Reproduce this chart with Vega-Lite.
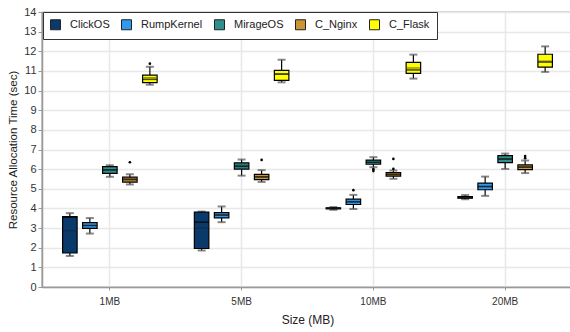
{
  "$schema": "https://vega.github.io/schema/vega-lite/v6.json",
  "width": 531,
  "height": 275,
  "autosize": {"type": "none"},
  "padding": {"left": 42, "top": 12, "right": 0, "bottom": 45},
  "background": "white",
  "config": {
    "font": "Liberation Sans",
    "view": {"stroke": "#555", "strokeWidth": 1.2},
    "legend": {"strokeColor": "#333", "fillColor": "white", "padding": 7},
    "axis": {
      "labelFont": "Liberation Sans",
      "titleFont": "Liberation Sans",
      "labelColor": "#333",
      "titleColor": "#222",
      "titleFontWeight": "normal",
      "domainColor": "#999",
      "domainWidth": 1.5,
      "tickColor": "#999",
      "gridColor": "#e8e8e8",
      "gridWidth": 1.5
    },
    "axisY": {"labelOverlap": false}
  },
  "datasets": {
    "boxes": [
      {"size": "1MB", "os": "ClickOS", "min": 1.58, "q1": 1.73, "median": 3.55, "mean": 2.86, "q3": 3.58, "max": 3.76},
      {"size": "1MB", "os": "RumpKernel", "min": 2.72, "q1": 2.98, "median": 3.13, "mean": 3.14, "q3": 3.28, "max": 3.51},
      {"size": "1MB", "os": "MirageOS", "min": 5.61, "q1": 5.78, "median": 5.96, "mean": 5.97, "q3": 6.13, "max": 6.2},
      {"size": "1MB", "os": "C_Nginx", "min": 5.22, "q1": 5.34, "median": 5.47, "mean": 5.5, "q3": 5.59, "max": 5.74},
      {"size": "1MB", "os": "C_Flask", "min": 10.3, "q1": 10.4, "median": 10.57, "mean": 10.65, "q3": 10.79, "max": 11.21},
      {"size": "5MB", "os": "ClickOS", "min": 1.86, "q1": 1.96, "median": 3.3, "mean": 3.0, "q3": 3.81, "max": 3.84},
      {"size": "5MB", "os": "RumpKernel", "min": 3.3, "q1": 3.52, "median": 3.66, "mean": 3.68, "q3": 3.79, "max": 4.1},
      {"size": "5MB", "os": "MirageOS", "min": 5.67, "q1": 6.0, "median": 6.14, "mean": 6.2, "q3": 6.32, "max": 6.49},
      {"size": "5MB", "os": "C_Nginx", "min": 5.35, "q1": 5.47, "median": 5.6, "mean": 5.62, "q3": 5.73, "max": 5.95},
      {"size": "5MB", "os": "C_Flask", "min": 10.42, "q1": 10.52, "median": 10.83, "mean": 10.86, "q3": 11.03, "max": 11.57},
      {"size": "10MB", "os": "ClickOS", "min": 3.93, "q1": 3.98, "median": 4.0, "mean": 4.01, "q3": 4.03, "max": 4.07},
      {"size": "10MB", "os": "RumpKernel", "min": 3.97, "q1": 4.2, "median": 4.33, "mean": 4.36, "q3": 4.47, "max": 4.69},
      {"size": "10MB", "os": "MirageOS", "min": 6.1, "q1": 6.25, "median": 6.35, "mean": 6.33, "q3": 6.46, "max": 6.61},
      {"size": "10MB", "os": "C_Nginx", "min": 5.51, "q1": 5.64, "median": 5.73, "mean": 5.76, "q3": 5.83, "max": 5.93},
      {"size": "10MB", "os": "C_Flask", "min": 10.61, "q1": 10.88, "median": 11.05, "mean": 11.15, "q3": 11.44, "max": 11.83},
      {"size": "20MB", "os": "ClickOS", "min": 4.47, "q1": 4.52, "median": 4.55, "mean": 4.56, "q3": 4.6, "max": 4.68},
      {"size": "20MB", "os": "RumpKernel", "min": 4.64, "q1": 4.95, "median": 5.11, "mean": 5.13, "q3": 5.29, "max": 5.62},
      {"size": "20MB", "os": "MirageOS", "min": 6.01, "q1": 6.33, "median": 6.52, "mean": 6.5, "q3": 6.69, "max": 6.79},
      {"size": "20MB", "os": "C_Nginx", "min": 5.8, "q1": 5.98, "median": 6.1, "mean": 6.12, "q3": 6.22, "max": 6.44},
      {"size": "20MB", "os": "C_Flask", "min": 10.95, "q1": 11.19, "median": 11.45, "mean": 11.5, "q3": 11.85, "max": 12.25}
    ],
    "outliers": [
      {"size": "1MB", "os": "C_Nginx", "value": 6.35},
      {"size": "1MB", "os": "C_Flask", "value": 11.37},
      {"size": "5MB", "os": "C_Nginx", "value": 6.47},
      {"size": "10MB", "os": "RumpKernel", "value": 4.93},
      {"size": "10MB", "os": "MirageOS", "value": 6.0},
      {"size": "10MB", "os": "MirageOS", "value": 5.9},
      {"size": "10MB", "os": "C_Nginx", "value": 6.52},
      {"size": "10MB", "os": "C_Nginx", "value": 6.01},
      {"size": "20MB", "os": "C_Nginx", "value": 6.67},
      {"size": "20MB", "os": "C_Nginx", "value": 6.56}
    ]
  },
  "encoding": {
    "x": {
      "field": "size",
      "type": "nominal",
      "sort": ["1MB", "5MB", "10MB", "20MB"],
      "scale": {"paddingInner": 0, "paddingOuter": 0.015},
      "axis": {
        "title": "Size (MB)",
        "titleFontSize": 12,
        "titlePadding": 8,
        "labelFontSize": 10,
        "labelAngle": 0,
        "labelPadding": 6,
        "tickSize": 3,
        "grid": true
      }
    },
    "xOffset": {
      "field": "os",
      "type": "nominal",
      "sort": ["ClickOS", "RumpKernel", "MirageOS", "C_Nginx", "C_Flask"],
      "scale": {"paddingInner": 0.275, "paddingOuter": 0.931}
    }
  },
  "layer": [
    {
      "data": {"name": "boxes"},
      "mark": {"type": "rule", "color": "black", "strokeWidth": 1.2},
      "encoding": {
        "y": {
          "field": "min",
          "type": "quantitative",
          "scale": {"domain": [0, 14], "nice": false},
          "axis": {
            "title": "Resource Allocation Time (sec)",
            "titleFontSize": 11.5,
            "titlePadding": 5,
            "labelFontSize": 11,
            "values": [0, 1, 2, 3, 4, 5, 6, 7, 8, 9, 10, 11, 12, 13, 14],
            "tickSize": 4,
            "labelPadding": 2
          }
        },
        "y2": {"field": "max"}
      }
    },
    {
      "data": {"name": "boxes"},
      "mark": {"type": "tick", "color": "#555", "size": 8, "thickness": 2},
      "encoding": {"y": {"field": "max", "type": "quantitative", "axis": {"title": "Resource Allocation Time (sec)", "values": [0, 1, 2, 3, 4, 5, 6, 7, 8, 9, 10, 11, 12, 13, 14]}}}
    },
    {
      "data": {"name": "boxes"},
      "mark": {"type": "tick", "color": "#555", "size": 8, "thickness": 2},
      "encoding": {"y": {"field": "min", "type": "quantitative", "axis": {"title": "Resource Allocation Time (sec)", "values": [0, 1, 2, 3, 4, 5, 6, 7, 8, 9, 10, 11, 12, 13, 14]}}}
    },
    {
      "data": {"name": "boxes"},
      "mark": {"type": "bar", "stroke": "black", "strokeWidth": 1.2, "opacity": 1},
      "encoding": {
        "y": {"field": "q1", "type": "quantitative", "axis": {"title": "Resource Allocation Time (sec)", "values": [0, 1, 2, 3, 4, 5, 6, 7, 8, 9, 10, 11, 12, 13, 14]}},
        "y2": {"field": "q3"},
        "color": {
          "field": "os",
          "type": "nominal",
          "sort": ["ClickOS", "RumpKernel", "MirageOS", "C_Nginx", "C_Flask"],
          "scale": {
            "domain": ["ClickOS", "RumpKernel", "MirageOS", "C_Nginx", "C_Flask"],
            "range": ["#0a3a6b", "#3399ee", "#2f8f8c", "#c99535", "#ffff00"]
          },
          "legend": {
            "title": null,
            "orient": "none",
            "legendX": 1,
            "legendY": 0,
            "direction": "horizontal",
            "symbolType": "square",
            "symbolSize": 100,
            "symbolStrokeColor": "#222",
            "symbolStrokeWidth": 1,
            "symbolOpacity": 1,
            "labelFont": "Liberation Sans",
            "labelFontSize": 11,
            "labelColor": "#222",
            "labelOffset": 9,
            "columnPadding": 9
          }
        }
      }
    },
    {
      "data": {"name": "boxes"},
      "mark": {"type": "tick", "color": "black", "size": 14.5, "thickness": 1.5},
      "encoding": {"y": {"field": "median", "type": "quantitative", "axis": {"title": "Resource Allocation Time (sec)", "values": [0, 1, 2, 3, 4, 5, 6, 7, 8, 9, 10, 11, 12, 13, 14]}}}
    },
    {
      "data": {"name": "boxes"},
      "mark": {"type": "tick", "color": "#222", "size": 13, "thickness": 1, "strokeDash": [2, 2]},
      "encoding": {"y": {"field": "mean", "type": "quantitative", "axis": {"title": "Resource Allocation Time (sec)", "values": [0, 1, 2, 3, 4, 5, 6, 7, 8, 9, 10, 11, 12, 13, 14]}}}
    },
    {
      "data": {"name": "outliers"},
      "mark": {"type": "circle", "color": "black", "size": 7, "opacity": 1},
      "encoding": {"y": {"field": "value", "type": "quantitative", "axis": {"title": "Resource Allocation Time (sec)", "values": [0, 1, 2, 3, 4, 5, 6, 7, 8, 9, 10, 11, 12, 13, 14]}}}
    }
  ]
}
